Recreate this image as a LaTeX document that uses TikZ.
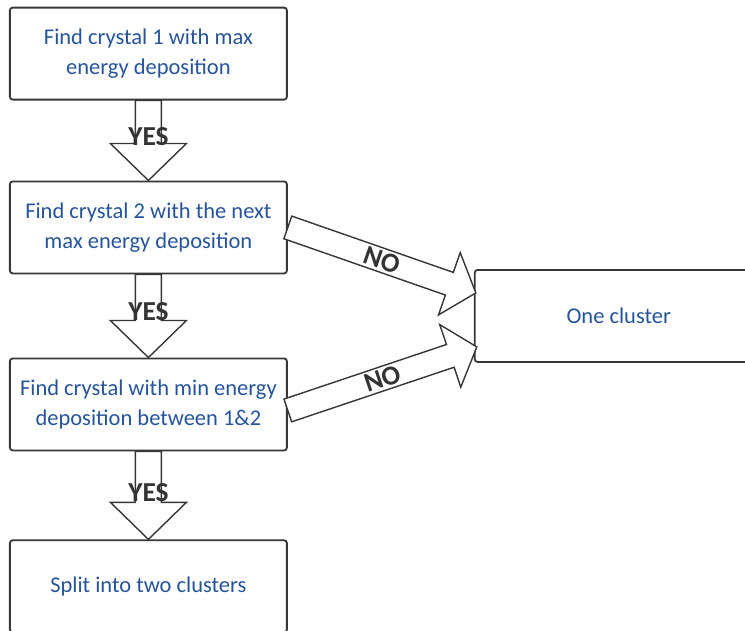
\documentclass[tikz,border=0pt]{standalone}
\usepackage{fontspec}
\setmainfont{Carlito}
\usepackage{xcolor}
\usepackage{tikz}
\usetikzlibrary{positioning, calc}

\definecolor{txtblue}{RGB}{38,84,155}
\definecolor{linegray}{RGB}{55,55,55}

\def\shaftw{0.325cm}
\def\headw{0.95cm}
\def\headlen{0.925cm}

% #1 from, #2 to, #3 label, #4 label pos, #5 label rotation
\newcommand{\blockarrow}[5]{%
	\draw[blockarr] let \p1=($(#2)-(#1)$), \n1={atan2(\y1,\x1)}, \n2={veclen(\x1,\y1)-\headlen} in
		($(#1)+(\n1+90:\shaftw)$) -- ++(\n1:\n2) -- ++(\n1+90:\headw-\shaftw) -- (#2)
		-- ($(#1)+(\n1:\n2)+(\n1-90:\headw)$) -- ++(\n1+90:\headw-\shaftw) -- ($(#1)+(\n1-90:\shaftw)$) -- cycle
		($(#1)!#4!(#2)$) node[arrlabel, rotate=#5] {#3};
}

\begin{document}
\begin{tikzpicture}
		\tikzset{
			stepbox/.style={draw=linegray, line width=1.3pt, rounded corners=2pt, minimum width=6.925cm, minimum height=2.3cm, align=center, text=txtblue, font=\fontsize{16}{21}\selectfont},
			blockarr/.style={draw=linegray, line width=1pt, fill=white, line join=miter},
			arrlabel/.style={inner sep=0pt, text=black!80, font=\fontsize{19.5}{19.5}\selectfont\bfseries}
		}
		\useasboundingbox (0,0) rectangle (18.625,-15.775);
		\node[stepbox] (b1) at (3.71,-1.34) {Find crystal 1 with max\\energy deposition};
		\node[stepbox, below=2.0cm of b1] (b2) {Find crystal 2 with the next\\max energy deposition};
		\node[stepbox, below=2.08cm of b2] (b3) {Find crystal with min energy\\deposition between 1\&2};
		\node[stepbox, below=2.2cm of b3] (b4) {Split into two clusters};
		\coordinate (mid) at ($(b2.east)!0.5!(b3.east)$);
		\node[stepbox, minimum width=7.2cm, right=4.65cm of mid] (b5) {One cluster};
		
		\blockarrow{b1.south}{b2.north}{YES}{0.45}{0}
		\blockarrow{b2.south}{b3.north}{YES}{0.45}{0}
		\blockarrow{b3.south}{b4.north}{YES}{0.47}{0}
		
		\def\shaftw{0.3cm}
		\def\headw{0.825cm}
		\def\headlen{0.7cm}
		\coordinate (n1) at ($(b3.east)+(0,-0.15)$);
		\coordinate (t1) at ($(b5.west)+(0.05,0.575)$);
		\coordinate (t2) at ($(b5.west)+(0.075,-0.775)$);
		\blockarrow{b2.east}{t1}{NO}{0.5}{\n1}
		\blockarrow{n1}{t2}{NO}{0.5}{\n1}
	\end{tikzpicture}
\end{document}
